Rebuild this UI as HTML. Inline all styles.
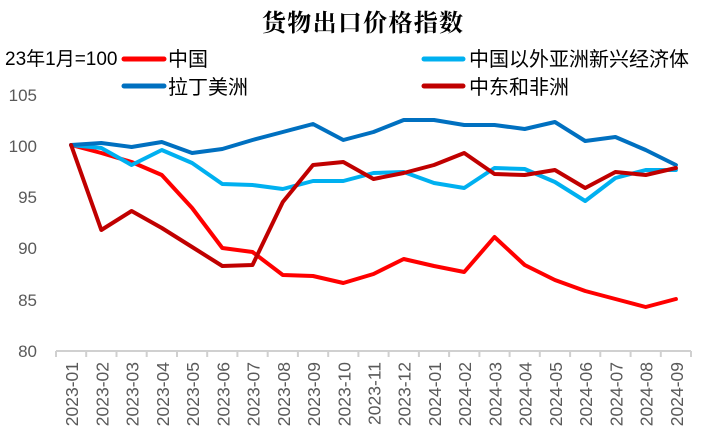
<!DOCTYPE html>
<html><head><meta charset="utf-8"><style>
html,body{margin:0;padding:0;background:#fff;}
svg{display:block;}
</style></head><body>
<svg width="714" height="439" viewBox="0 0 714 439" xmlns="http://www.w3.org/2000/svg">
<rect width="714" height="439" fill="#fff"/>
<text x="262" y="31" font-family="'Noto Serif CJK SC','Liberation Serif',serif" font-weight="bold" font-size="24" fill="#000" textLength="201">货物出口价格指数</text>
<text x="5" y="65" font-family="'Liberation Sans','Noto Sans CJK SC',sans-serif" font-size="19" fill="#000">23年1月=100</text>
<g stroke-width="5" stroke-linecap="round">
<line x1="124" y1="59" x2="164" y2="59" stroke="#FF0000"/>
<line x1="124" y1="86" x2="164" y2="86" stroke="#0070C0"/>
<line x1="424" y1="59" x2="463" y2="59" stroke="#00B0F0"/>
<line x1="424" y1="86" x2="463" y2="86" stroke="#C00000"/>
</g>
<g font-family="'Liberation Sans','Noto Sans CJK SC',sans-serif" font-size="20" fill="#000">
<text x="168" y="66">中国</text>
<text x="168" y="94">拉丁美洲</text>
<text x="469" y="66">中国以外亚洲新兴经济体</text>
<text x="469" y="94">中东和非洲</text>
</g>
<g font-family="'Liberation Sans',sans-serif" font-size="17" fill="#595959" text-anchor="end">
<text x="37" y="101">105</text>
<text x="37" y="152">100</text>
<text x="37" y="203">95</text>
<text x="37" y="254">90</text>
<text x="37" y="306">85</text>
<text x="37" y="357">80</text>
</g>
<g stroke="#D0D0D0" stroke-width="2" fill="none">
<line x1="56" y1="351" x2="691" y2="351"/>
<path d="M56,351v6M86.2,351v6M116.5,351v6M146.7,351v6M177,351v6M207.2,351v6M237.4,351v6M267.7,351v6M297.9,351v6M328.2,351v6M358.4,351v6M388.6,351v6M418.9,351v6M449.1,351v6M479.4,351v6M509.6,351v6M539.8,351v6M570.1,351v6M600.3,351v6M630.6,351v6M660.8,351v6M691,351v6"/>
</g>
<g font-family="'Liberation Sans',sans-serif" font-size="17.5" fill="#595959" text-anchor="end">
<text transform="translate(78.1,362) rotate(-90)">2023-01</text>
<text transform="translate(108.3,362) rotate(-90)">2023-02</text>
<text transform="translate(138.6,362) rotate(-90)">2023-03</text>
<text transform="translate(168.8,362) rotate(-90)">2023-04</text>
<text transform="translate(199.1,362) rotate(-90)">2023-05</text>
<text transform="translate(229.3,362) rotate(-90)">2023-06</text>
<text transform="translate(259.5,362) rotate(-90)">2023-07</text>
<text transform="translate(289.8,362) rotate(-90)">2023-08</text>
<text transform="translate(320,362) rotate(-90)">2023-09</text>
<text transform="translate(350.3,362) rotate(-90)">2023-10</text>
<text transform="translate(380.5,362) rotate(-90)">2023-11</text>
<text transform="translate(410.7,362) rotate(-90)">2023-12</text>
<text transform="translate(441,362) rotate(-90)">2024-01</text>
<text transform="translate(471.2,362) rotate(-90)">2024-02</text>
<text transform="translate(501.5,362) rotate(-90)">2024-03</text>
<text transform="translate(531.7,362) rotate(-90)">2024-04</text>
<text transform="translate(561.9,362) rotate(-90)">2024-05</text>
<text transform="translate(592.2,362) rotate(-90)">2024-06</text>
<text transform="translate(622.4,362) rotate(-90)">2024-07</text>
<text transform="translate(652.7,362) rotate(-90)">2024-08</text>
<text transform="translate(682.9,362) rotate(-90)">2024-09</text>
</g>
<g fill="none" stroke-width="4" stroke-linejoin="round" stroke-linecap="round">
<polyline stroke="#FF0000" points="71.1,145 101.3,153 131.6,162 161.8,175 192.1,208 222.3,248 252.5,252 282.8,275 313,276 343.3,283 373.5,274 403.7,259 434,266 464.2,272 494.5,237 524.7,265 554.9,280 585.2,291 615.4,299 645.7,307 675.9,299"/>
<polyline stroke="#00B0F0" points="71.1,145 101.3,148 131.6,165 161.8,150 192.1,163 222.3,184 252.5,185 282.8,189 313,181 343.3,181 373.5,173 403.7,172 434,183 464.2,188 494.5,168 524.7,169 554.9,182 585.2,201 615.4,178 645.7,170 675.9,170"/>
<polyline stroke="#0070C0" points="71.1,145 101.3,143 131.6,147 161.8,142 192.1,153 222.3,149 252.5,140 282.8,132 313,124 343.3,140 373.5,132 403.7,120 434,120 464.2,125 494.5,125 524.7,129 554.9,122 585.2,141 615.4,137 645.7,150 675.9,165"/>
<polyline stroke="#C00000" points="71.1,145 101.3,230 131.6,211 161.8,228 192.1,247 222.3,266 252.5,265 282.8,202 313,165 343.3,162 373.5,179 403.7,173 434,165 464.2,153 494.5,174 524.7,175 554.9,170 585.2,188 615.4,172 645.7,175 675.9,168"/>
</g>
</svg>
</body></html>
